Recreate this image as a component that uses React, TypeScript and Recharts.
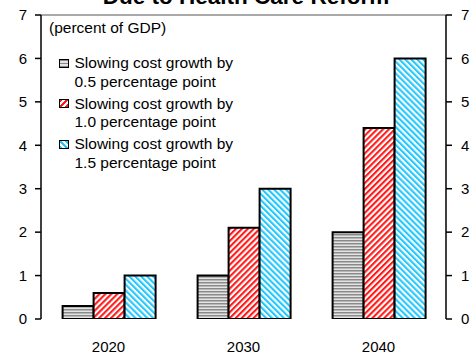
import React from "react";
import {
  BarChart, Bar, XAxis, YAxis, ReferenceLine,
} from "recharts";

const years = ["2020", "2030", "2040"];
const slow05 = [0.3, 1.0, 2.0];
const slow10 = [0.6, 2.1, 4.4];
const slow15 = [1.0, 3.0, 6.0];
const yTicks = [0, 1, 2, 3, 4, 5, 6, 7];
const seriesLines = [
  ["Slowing cost growth by", "0.5 percentage point"],
  ["Slowing cost growth by", "1.0 percentage point"],
  ["Slowing cost growth by", "1.5 percentage point"],
];

const FONT = '"Liberation Sans", Arial, sans-serif';
const RED = "#ff1a1a";
const CYAN = "#22c8ff";

const data = years.map((y, i) => ({
  year: y,
  a: slow05[i],
  b: slow10[i],
  c: slow15[i],
}));

const swatchBg = [
  "repeating-linear-gradient(to bottom, #8a8a8a 0 1.5px, #e4e4e4 1.5px 3px)",
  `repeating-linear-gradient(135deg, ${RED} 0 2px, #fff 2px 4px)`,
  `repeating-linear-gradient(45deg, ${CYAN} 0 2px, #fff 2px 4px)`,
];

const tickStyle = { fontSize: 15, fill: "#000", fontFamily: FONT };

export default function App() {
  return (
    <div
      style={{
        position: "absolute",
        left: 0,
        top: 0,
        width: 471,
        height: 354,
        background: "#fff",
        overflow: "hidden",
        fontFamily: FONT,
      }}
    >
      <svg width={0} height={0} style={{ position: "absolute" }}>
        <defs>
          <pattern id="pGray" width={4} height={3} patternUnits="userSpaceOnUse">
            <rect width={4} height={3} fill="#e4e4e4" />
            <rect width={4} height={1.5} fill="#8a8a8a" />
          </pattern>
          <pattern
            id="pRed"
            width={4.2}
            height={4.2}
            patternUnits="userSpaceOnUse"
            patternTransform="rotate(45)"
          >
            <rect width={4.2} height={4.2} fill="#fff" />
            <rect width={2.1} height={4.2} fill={RED} />
          </pattern>
          <pattern
            id="pCyan"
            width={4.2}
            height={4.2}
            patternUnits="userSpaceOnUse"
            patternTransform="rotate(-45)"
          >
            <rect width={4.2} height={4.2} fill="#fff" />
            <rect width={2.1} height={4.2} fill={CYAN} />
          </pattern>
        </defs>
      </svg>

      <BarChart
        width={471}
        height={354}
        data={data}
        margin={{ top: 15, right: 0, bottom: 0, left: 0 }}
        barCategoryGap="16%"
        barGap={0}
      >
        <XAxis
          xAxisId="edge"
          type="number"
          domain={[0, 3]}
          allowDataOverflow
          ticks={[0, 1, 2, 3]}
          tick={false}
          tickSize={6}
          height={0}
          axisLine={{ stroke: "#000", strokeWidth: 1.5 }}
          tickLine={{ stroke: "#000", strokeWidth: 1.5 }}
        />
        <XAxis
          xAxisId="cat"
          dataKey="year"
          height={35}
          axisLine={false}
          tickLine={false}
          tickSize={0}
          tickMargin={22}
          tick={tickStyle}
        />
        <YAxis
          yAxisId="l"
          width={41}
          domain={[0, 7]}
          allowDataOverflow
          ticks={yTicks}
          tickSize={6}
          tickMargin={8}
          tick={tickStyle}
          axisLine={{ stroke: "#000", strokeWidth: 1.5 }}
          tickLine={{ stroke: "#000", strokeWidth: 1.5 }}
        />
        <YAxis
          yAxisId="r"
          orientation="right"
          width={25}
          domain={[0, 7]}
          allowDataOverflow
          ticks={yTicks}
          tickSize={6}
          tickMargin={9}
          tick={tickStyle}
          axisLine={{ stroke: "#000", strokeWidth: 1.5 }}
          tickLine={{ stroke: "#000", strokeWidth: 1.5 }}
        />
        <ReferenceLine yAxisId="r" xAxisId="cat" y={7} stroke="#8c8c8c" strokeWidth={1.5} />
        <Bar xAxisId="cat" yAxisId="l" dataKey="a" fill="url(#pGray)" stroke="#000" strokeWidth={2} isAnimationActive={false} />
        <Bar xAxisId="cat" yAxisId="l" dataKey="b" fill="url(#pRed)" stroke="#000" strokeWidth={2} isAnimationActive={false} />
        <Bar xAxisId="cat" yAxisId="l" dataKey="c" fill="url(#pCyan)" stroke="#000" strokeWidth={2} isAnimationActive={false} />
      </BarChart>

      {/* title, mostly cut off at the top edge as in the source */}
      <div
        style={{
          position: "absolute",
          left: 0,
          top: -14.5,
          width: 492,
          textAlign: "center",
          fontSize: 22.5,
          fontWeight: 700,
          lineHeight: "22.5px",
          color: "#000",
          whiteSpace: "nowrap",
        }}
      >
        Due to Health Care Reform
      </div>

      <div
        style={{
          position: "absolute",
          left: 49,
          top: 19,
          fontSize: 15.5,
          lineHeight: "18.5px",
          color: "#000",
          whiteSpace: "nowrap",
        }}
      >
        (percent of GDP)
      </div>

      <div style={{ position: "absolute", left: 59, top: 54 }}>
        {seriesLines.map((lines, i) => (
          <div
            key={i}
            style={{
              position: "relative",
              height: 37,
              marginBottom: 3.5,
              paddingLeft: 15.5,
              fontSize: 15.5,
              lineHeight: "18.5px",
              color: "#000",
              whiteSpace: "nowrap",
            }}
          >
            <span
              style={{
                position: "absolute",
                left: 0,
                top: 4.5,
                width: 8,
                height: 7,
                border: "1.5px solid #000",
                background: swatchBg[i],
              }}
            />
            <div>{lines[0]}</div>
            <div>{lines[1]}</div>
          </div>
        ))}
      </div>
    </div>
  );
}
